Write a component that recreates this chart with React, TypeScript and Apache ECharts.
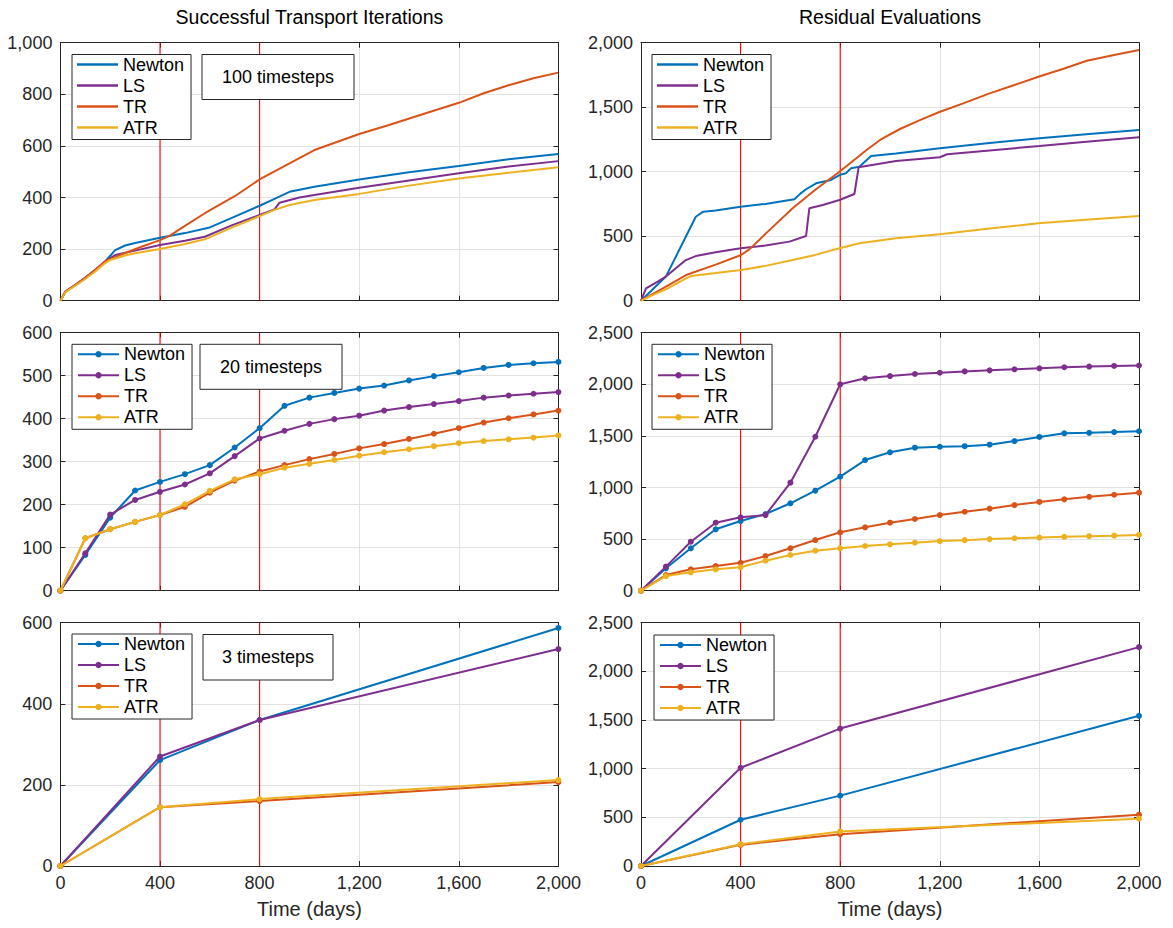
import React, { useEffect, useRef } from "react";
import * as echarts from "echarts";

// ---- shared ----
const METHODS = ["Newton", "LS", "TR", "ATR"];
const COLORS = ["#0072BD", "#7E2F8E", "#D95319", "#EDB120"];
const X_MAX = 2000;
const X_STEP = 400;
const MARK_DAYS = [400, 800];

// ---- 100 timesteps: [day, cumulative count] ----
const itNewton100 = [[0,0],[20,35],[60,60],[100,88],[140,118],[180,152],[220,196],[260,214],[300,224],[400,244],[500,262],[600,284],[700,326],[800,368],[860,395],[920,422],[1020,442],[1200,470],[1400,498],[1600,522],[1800,548],[2000,569]];
const itLS100 = [[0,0],[20,35],[60,62],[100,90],[140,120],[180,153],[220,177],[300,194],[400,216],[500,232],[580,248],[690,293],[800,332],[860,354],[880,380],[960,400],[1020,410],[1200,438],[1400,466],[1600,494],[1800,520],[2000,541]];
const itTR100 = [[0,0],[20,35],[60,61],[100,88],[140,119],[180,152],[250,181],[320,207],[400,235],[440,252],[500,290],[580,339],[700,405],[800,470],[920,532],[1020,584],[1200,646],[1320,681],[1420,712],[1600,767],[1700,804],[1800,835],[1900,862],[2000,884]];
const itATR100 = [[0,0],[20,33],[60,58],[100,84],[140,113],[180,146],[200,158],[260,175],[300,184],[400,200],[500,220],[580,238],[700,288],[800,328],[860,352],[920,371],[1020,390],[1200,414],[1400,446],[1600,474],[1800,496],[2000,517]];

const resNewton100 = [[0,0],[100,187],[220,651],[250,690],[300,700],[400,729],[500,750],[616,786],[640,830],[663,864],[703,910],[763,936],[797,974],[823,988],[843,1026],[877,1039],[924,1121],[1024,1142],[1200,1181],[1400,1222],[1600,1259],[1800,1293],[2000,1323]];
const resLS100 = [[0,0],[20,96],[55,135],[100,187],[180,315],[220,346],[300,375],[400,406],[500,428],[596,458],[663,502],[676,716],[730,742],[797,781],[857,827],[874,1034],[1024,1083],[1200,1112],[1230,1135],[1400,1165],[1600,1199],[1800,1235],[2000,1267]];
const resTR100 = [[0,0],[100,110],[181,199],[300,280],[402,354],[435,398],[520,555],[609,716],[700,860],[797,1000],[906,1168],[960,1246],[1040,1331],[1120,1400],[1201,1465],[1294,1530],[1400,1607],[1500,1672],[1596,1736],[1700,1800],[1790,1860],[1900,1905],[2000,1943]];
const resATR100 = [[0,0],[60,55],[100,88],[181,173],[201,191],[300,215],[402,238],[500,270],[609,315],[700,355],[797,406],[877,445],[1024,484],[1200,515],[1400,560],[1596,600],[1800,630],[2000,657]];

// ---- 20 timesteps ----
const days20 = [0,100,200,300,400,500,600,700,800,900,1000,1100,1200,1300,1400,1500,1600,1700,1800,1900,2000];
const itNewton20 = [0,83,170,233,253,271,292,333,378,430,449,460,470,477,489,499,508,518,525,529,532];
const itLS20 = [0,87,177,211,230,247,273,313,354,372,388,399,407,419,427,434,441,449,454,458,462];
const itTR20 = [0,122,143,160,176,195,228,256,277,292,306,318,331,341,353,365,378,391,401,410,419];
const itATR20 = [0,122,143,160,176,201,232,259,271,286,295,304,314,322,329,336,343,348,352,356,361];
const resNewton20 = [0,217,411,595,675,743,847,969,1105,1266,1341,1386,1395,1400,1415,1450,1490,1525,1530,1537,1545];
const resLS20 = [0,233,475,659,711,733,1047,1492,2000,2058,2080,2100,2112,2125,2135,2145,2155,2165,2172,2178,2182];
const resTR20 = [0,152,207,239,271,336,411,491,566,614,659,695,733,765,795,830,860,885,910,930,950];
const resATR20 = [0,142,178,207,227,291,346,388,411,433,449,465,481,490,500,508,515,522,528,533,540];

// ---- 3 timesteps ----
const days3 = [0, 400, 800, 2000];
const itNewton3 = [0, 261, 360, 587];
const itLS3 = [0, 270, 360, 535];
const itTR3 = [0, 145, 160, 207];
const itATR3 = [0, 145, 165, 212];
const resNewton3 = [0, 475, 723, 1543];
const resLS3 = [0, 1009, 1412, 2249];
const resTR3 = [0, 217, 327, 527];
const resATR3 = [0, 224, 355, 486];

const FONT = "'Liberation Sans', Arial, Helvetica, sans-serif";
const AXIS_COLOR = "#262626";
const GRID_COLOR = "#e2e2e2";
const REF_COLOR = "#ff0000";

const zip = (xs: number[], ys: number[]) => xs.map((x, i) => [x, ys[i]]);
const fmt = (v: number) => Math.round(v).toLocaleString("en-US");

type Panel = {
  key: string;
  left: number;
  top: number;
  height: number;
  yMax: number;
  yStep: number;
  lines: number[][][];
  marker: boolean;
  bottomRow: boolean;
  legendPos: { left: number; top: number };
  note?: { text: string; x: number; y: number; w: number; h: number };
};

const LEFT_COL = 60.4;
const RIGHT_COL = 641;
const PLOT_W = 498;

const panels: Panel[] = [
  {
    key: "it100", left: LEFT_COL, top: 42.7, height: 258, yMax: 1000, yStep: 200,
    lines: [itNewton100, itLS100, itTR100, itATR100], marker: false, bottomRow: false,
    legendPos: { left: 72, top: 54.5 },
    note: { text: "100 timesteps", x: 202, y: 54.5, w: 152, h: 45 },
  },
  {
    key: "res100", left: RIGHT_COL, top: 42.7, height: 258, yMax: 2000, yStep: 500,
    lines: [resNewton100, resLS100, resTR100, resATR100], marker: false, bottomRow: false,
    legendPos: { left: 652, top: 54.5 },
  },
  {
    key: "it20", left: LEFT_COL, top: 332.7, height: 258, yMax: 600, yStep: 100,
    lines: [itNewton20, itLS20, itTR20, itATR20].map((s) => zip(days20, s)), marker: true, bottomRow: false,
    legendPos: { left: 72, top: 344.3 },
    note: { text: "20 timesteps", x: 200, y: 344.3, w: 142, h: 45 },
  },
  {
    key: "res20", left: RIGHT_COL, top: 332.7, height: 258, yMax: 2500, yStep: 500,
    lines: [resNewton20, resLS20, resTR20, resATR20].map((s) => zip(days20, s)), marker: true, bottomRow: false,
    legendPos: { left: 652, top: 344.3 },
  },
  {
    key: "it3", left: LEFT_COL, top: 622.7, height: 243.3, yMax: 600, yStep: 200,
    lines: [itNewton3, itLS3, itTR3, itATR3].map((s) => zip(days3, s)), marker: true, bottomRow: true,
    legendPos: { left: 72, top: 634 },
    note: { text: "3 timesteps", x: 203, y: 634.5, w: 130, h: 45.5 },
  },
  {
    key: "res3", left: RIGHT_COL, top: 622.7, height: 243.3, yMax: 2500, yStep: 500,
    lines: [resNewton3, resLS3, resTR3, resATR3].map((s) => zip(days3, s)), marker: true, bottomRow: true,
    legendPos: { left: 654, top: 635 },
  },
];

function buildOption() {
  const grid: any[] = [];
  const xAxis: any[] = [];
  const yAxis: any[] = [];
  const series: any[] = [];
  const legend: any[] = [];
  const graphic: any[] = [];
  const n = panels.length;

  const tick = { show: true, inside: true, length: 5, lineStyle: { color: AXIS_COLOR, width: 1 } };
  const line = { show: true, onZero: false, lineStyle: { color: AXIS_COLOR, width: 1 } };

  panels.forEach((p, pi) => {
    grid.push({ left: p.left, top: p.top, width: PLOT_W, height: p.height, containLabel: false });

    xAxis[pi] = {
      type: "value", gridIndex: pi, min: 0, max: X_MAX, interval: X_STEP, position: "bottom",
      axisLine: line, axisTick: tick,
      axisLabel: { show: p.bottomRow, fontSize: 18, fontFamily: FONT, color: AXIS_COLOR, margin: 8, formatter: fmt },
      splitLine: { show: true, lineStyle: { color: GRID_COLOR, width: 1 } },
      name: p.bottomRow ? "Time (days)" : "",
      nameLocation: "middle",
      nameGap: 33,
      nameTextStyle: { fontSize: 20, fontFamily: FONT, color: AXIS_COLOR },
    };
    xAxis[pi + n] = {
      type: "value", gridIndex: pi, min: 0, max: X_MAX, interval: X_STEP, position: "top",
      axisLine: line, axisTick: tick, axisLabel: { show: false }, splitLine: { show: false },
    };
    yAxis[pi] = {
      type: "value", gridIndex: pi, min: 0, max: p.yMax, interval: p.yStep, position: "left",
      axisLine: line, axisTick: tick,
      axisLabel: { fontSize: 18, fontFamily: FONT, color: AXIS_COLOR, margin: 8, formatter: fmt },
      splitLine: { show: true, lineStyle: { color: GRID_COLOR, width: 1 } },
    };
    yAxis[pi + n] = {
      type: "value", gridIndex: pi, min: 0, max: p.yMax, interval: p.yStep, position: "right",
      axisLine: line, axisTick: tick, axisLabel: { show: false }, splitLine: { show: false },
    };

    // red reference lines at the report days, spanning the full y range, beneath the curves
    MARK_DAYS.forEach((d) => {
      series.push({
        type: "line",
        name: `ref${d}#${p.key}`,
        xAxisIndex: pi,
        yAxisIndex: pi,
        data: [[d, 0], [d, p.yMax]],
        symbol: "none",
        showSymbol: false,
        lineStyle: { width: 1.1, color: REF_COLOR, opacity: 1 },
        itemStyle: { color: REF_COLOR },
        z: 2,
        silent: true,
      });
    });

    p.lines.forEach((data, mi) => {
      const color = COLORS[mi];
      series.push({
        type: "line",
        name: `${METHODS[mi]}#${p.key}`,
        xAxisIndex: pi,
        yAxisIndex: pi,
        data,
        symbol: p.marker ? "circle" : "none",
        showSymbol: p.marker,
        symbolSize: 6,
        lineStyle: { width: 2, color },
        itemStyle: { color, borderWidth: 0 },
        z: 3 + mi,
        silent: true,
      });
    });

    legend.push({
      left: p.legendPos.left,
      top: p.legendPos.top,
      orient: "vertical",
      selectedMode: false,
      data: METHODS.map((m) => (p.marker ? { name: `${m}#${p.key}` } : { name: `${m}#${p.key}`, icon: "rect" })),
      formatter: (name: string) => name.split("#")[0],
      itemWidth: 41,
      itemHeight: p.marker ? 8 : 2.5,
      itemGap: 3,
      padding: [1, 7, 3, 5],
      borderColor: AXIS_COLOR,
      borderWidth: 1,
      borderRadius: 0,
      backgroundColor: "#ffffff",
      itemStyle: { borderWidth: 0 },
      textStyle: { fontSize: 18, fontFamily: FONT, color: "#000", lineHeight: 18 },
      z: 10,
    });

    if (p.note) {
      const nb = p.note;
      graphic.push({
        type: "rect",
        shape: { x: nb.x, y: nb.y, width: nb.w, height: nb.h },
        style: { fill: "#ffffff", stroke: AXIS_COLOR, lineWidth: 1 },
        z: 20,
      });
      graphic.push({
        type: "text",
        x: nb.x + nb.w / 2,
        y: nb.y + nb.h / 2,
        style: { text: nb.text, fontSize: 18, fontFamily: FONT, fill: "#000", align: "center", verticalAlign: "middle" },
        z: 21,
      });
    }
  });

  graphic.push({
    type: "text", x: LEFT_COL + PLOT_W / 2, y: 17,
    style: { text: "Successful Transport Iterations", fontSize: 19.5, fontFamily: FONT, fill: "#000", align: "center", verticalAlign: "middle" },
  });
  graphic.push({
    type: "text", x: RIGHT_COL + PLOT_W / 2, y: 17,
    style: { text: "Residual Evaluations", fontSize: 19.5, fontFamily: FONT, fill: "#000", align: "center", verticalAlign: "middle" },
  });

  return { animation: false, backgroundColor: "#ffffff", grid, xAxis, yAxis, series, legend, graphic };
}

export default function App() {
  const ref = useRef<HTMLDivElement>(null);
  useEffect(() => {
    if (!ref.current) return;
    const chart = echarts.init(ref.current, undefined, { renderer: "svg" });
    chart.setOption(buildOption() as any);
    return () => chart.dispose();
  }, []);
  return (
    <div
      ref={ref}
      style={{ position: "fixed", left: 0, top: 0, width: 1173, height: 928, background: "#ffffff" }}
    />
  );
}
